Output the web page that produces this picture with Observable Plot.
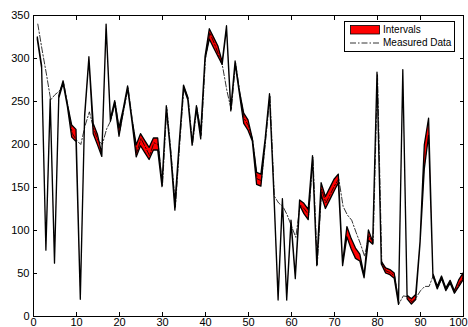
<!DOCTYPE html>
<html>
<head>
<meta charset="utf-8">
<script src="https://cdn.jsdelivr.net/npm/d3@7"></script>
<script src="https://cdn.jsdelivr.net/npm/@observablehq/plot@0.6"></script>
<style>
  body { margin: 0; background: #fff; }
  #wrap { position: relative; width: 468px; height: 327px; font-family: "Liberation Sans", Arial, sans-serif; }
  #legend { position: absolute; left: 344px; top: 21px; width: 109px; height: 29px; border: 1px solid #000; background: #fff; font-size: 10px; }
  #legend .row { position: absolute; left: 5px; height: 12px; display: flex; align-items: center; }
  #legend svg { display: block; }
  #legend span { margin-left: 3px; line-height: 12px; }
</style>
</head>
<body>
<div id="wrap"></div>
<script>
// Interval centre, index 1..100
const center = [
  323, 290, 78, 251, 63, 255, 272, 245, 215, 210,
  21, 232, 300, 218, 205, 187, 338, 228, 249, 214,
  240, 266, 228, 192, 205, 197, 189, 200, 200, 152,
  243, 190, 127, 200, 267, 253, 200, 243, 210, 300,
  328, 318, 308, 294, 336, 240, 295, 260, 230, 222,
  205, 160, 158, 205, 257, 145, 20, 135, 20, 110,
  45, 132, 125, 118, 185, 60, 148, 132, 142, 152,
  160, 60, 98, 84, 73, 68, 46, 94, 85, 282,
  62, 53, 51, 47, 15, 285, 22, 17, 22, 85,
  185, 220, 48, 33, 45, 31, 40, 28, 38, 46
];
// Interval half-width
const spread = [
  1.5, 1.5, 1.5, 1.5, 1.5, 1.5, 1.5, 1.5, 7, 7,
  1.5, 1.5, 1.5, 6, 6, 1.5, 1.5, 1.5, 1.5, 5,
  1.5, 1.5, 1.5, 7, 7, 7, 7, 7, 7, 1.5,
  1.5, 1.5, 4, 1.5, 1.5, 1.5, 1.5, 1.5, 4, 1.5,
  6, 6, 6, 1.5, 1.5, 1.5, 1.5, 1.5, 6, 6,
  1.5, 7, 7, 1.5, 1.5, 1.5, 1.5, 1.5, 1.5, 1.5,
  1.5, 3, 6, 6, 1.5, 1.5, 7, 7, 7, 7,
  5, 1.5, 6, 6, 6, 4, 1.5, 6, 1.5, 1.5,
  1.5, 3, 3, 3, 1.5, 1.5, 2, 3, 3, 1.5,
  14, 10, 1.5, 1.5, 1.5, 1.5, 1.5, 1.5, 4, 4
];
const measured = [
  340, 310, 282, 252, 258, 262, 272, 245, 213, 205,
  200, 222, 238, 218, 205, 200, 218, 228, 249, 214,
  240, 266, 228, 190, 207, 197, 187, 202, 200, 152,
  243, 190, 127, 200, 267, 253, 200, 243, 210, 300,
  330, 318, 305, 290, 262, 240, 295, 260, 230, 222,
  205, 160, 158, 205, 257, 140, 132, 128, 118, 105,
  92, 130, 125, 118, 185, 60, 148, 132, 142, 152,
  160, 128, 118, 112, 98, 85, 70, 94, 85, 282,
  62, 53, 51, 47, 15, 24, 23, 17, 22, 30,
  35, 35, 48, 33, 45, 31, 40, 28, 38, 46
];
const xTicks = [0, 10, 20, 30, 40, 50, 60, 70, 80, 90, 100];
const yTicks = [0, 50, 100, 150, 200, 250, 300, 350];
const seriesNames = ["Intervals", "Measured Data"];

const data = center.map((c, i) => ({ x: i + 1, lo: c - spread[i], hi: c + spread[i], m: measured[i] }));
const lastTick = xTicks[xTicks.length - 1];

const chart = Plot.plot({
  width: 468, height: 327,
  marginLeft: 33, marginRight: 5, marginTop: 15, marginBottom: 11,
  style: { fontFamily: "'Liberation Sans', Arial, sans-serif", fontSize: "11px", background: "white", color: "black" },
  x: { domain: [0, 100] },
  y: { domain: [0, 350] },
  marks: [
    Plot.areaY(data, { x: "x", y1: "lo", y2: "hi", fill: "#ff0000", stroke: "#000", strokeWidth: 1.3 }),
    Plot.lineY(data, { x: "x", y: "m", stroke: "#000", strokeWidth: 0.8, strokeDasharray: "6,2,1.5,2" }),
    Plot.frame({ stroke: "#000" }),
    Plot.axisX({ ticks: xTicks, anchor: "bottom", tickSize: -4, tickFormat: () => "", label: null }),
    Plot.axisX({ ticks: xTicks, anchor: "top", tickSize: -4, tickFormat: () => "", label: null }),
    Plot.axisY({ ticks: yTicks, anchor: "left", tickSize: -4, tickFormat: () => "", label: null }),
    Plot.axisY({ ticks: yTicks, anchor: "right", tickSize: -4, tickFormat: () => "", label: null }),
    Plot.axisX({ ticks: xTicks.filter(t => t !== lastTick), anchor: "bottom", tickSize: 0, tickPadding: 2, label: null }),
    Plot.axisX({ ticks: [lastTick], anchor: "bottom", tickSize: 0, tickPadding: 2, label: null, dx: -5 }),
    Plot.axisY({ ticks: yTicks, anchor: "left", tickSize: 0, tickPadding: 4, label: null })
  ]
});

const wrap = document.getElementById("wrap");
wrap.appendChild(chart);

const legend = document.createElement("div");
legend.id = "legend";
legend.innerHTML = `
  <div class="row" style="top:2px"><svg width="30" height="10"><rect x="0.5" y="0.5" width="29" height="8.5" fill="#ff0000" stroke="#000" stroke-width="0.8"/></svg><span>${seriesNames[0]}</span></div>
  <div class="row" style="top:15px"><svg width="30" height="10"><line x1="0" x2="30" y1="5" y2="5" stroke="#000" stroke-width="0.8" stroke-dasharray="6,2,1.5,2"/></svg><span>${seriesNames[1]}</span></div>`;
wrap.appendChild(legend);
</script>
</body>
</html>
